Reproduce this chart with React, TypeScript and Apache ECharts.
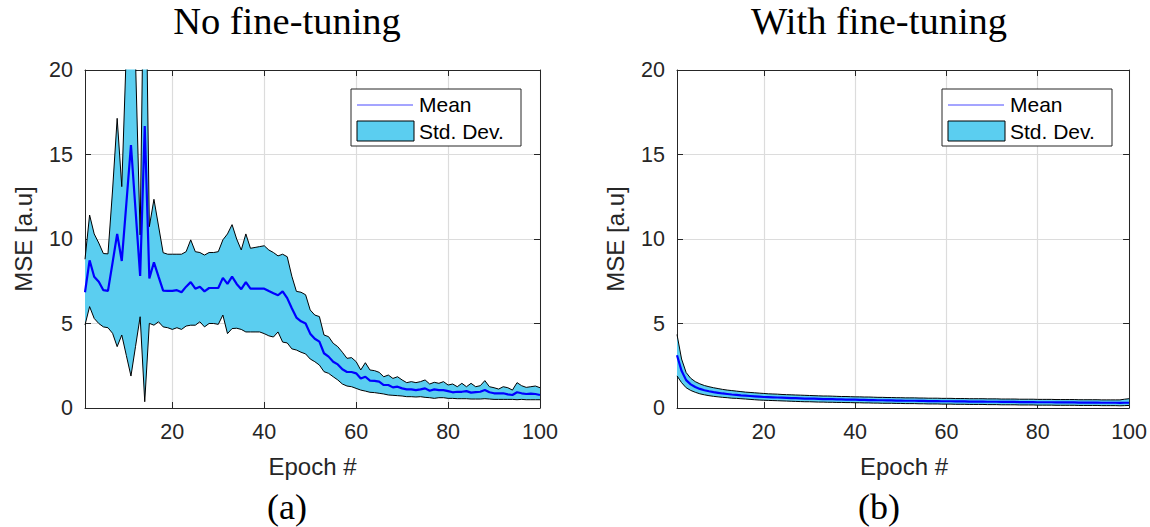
import React, { useEffect, useRef } from "react";
import * as echarts from "echarts";

// ---------- data ----------
const epochs = Array.from({ length: 100 }, (_, i) => String(i + 1));
const xTickValues = ["20", "40", "60", "80", "100"];

const titles = ["No fine-tuning", "With fine-tuning"];
const subLabels = ["(a)", "(b)"];
const xAxisName = "Epoch #";
const yAxisName = "MSE [a.u]";
const legendNames = ["Mean", "Std. Dev."];

const leftMean = [
  6.85, 8.74, 7.77, 7.47, 6.97, 6.93, 8.6, 10.3, 8.7, 12.1,
  15.56, 11.7, 7.81, 16.69, 7.67, 8.62, 7.77, 6.94, 6.93, 6.93,
  6.97, 6.85, 7.18, 7.45, 7.06, 7.18, 6.9, 7.1, 7.1, 7.1,
  7.7, 7.34, 7.77, 7.34, 7.03, 7.45, 7.06, 7.06, 7.06, 7.06,
  6.92, 6.79, 6.67, 6.9, 6.5, 5.9, 5.35, 5.13, 5.0, 4.4,
  4.1, 3.93, 3.24, 3.04, 2.74, 2.58, 2.29, 2.13, 2.13, 2.05,
  1.75, 1.85, 1.62, 1.6, 1.56, 1.36, 1.36, 1.22, 1.26, 1.16,
  1.1, 1.1, 1.06, 1.1, 1.16, 1.02, 1.1, 1.06, 1.06, 1.0,
  0.93, 0.96, 0.96, 1.0, 0.91, 0.94, 0.96, 1.06, 0.93, 0.87,
  0.87, 0.87, 0.81, 0.77, 0.93, 0.87, 0.83, 0.85, 0.83, 0.77,
];
const leftUpper = [
  8.8, 11.42, 10.3, 9.76, 9.14, 9.12, 12.9, 17.14, 13.1, 21.2,
  29.2, 20.5, 10.24, 31.0, 10.73, 12.35, 10.77, 9.19, 9.1, 9.1,
  9.1, 9.1, 9.25, 9.95, 9.25, 9.2, 9.05, 9.2, 9.2, 9.25,
  9.95, 10.3, 10.85, 10.0, 9.35, 10.3, 9.45, 9.5, 9.55, 9.6,
  9.35, 9.2, 9.0, 9.1, 8.95, 7.8, 6.9, 6.85, 6.7, 5.8,
  5.5, 5.41, 4.32, 4.22, 3.83, 3.63, 3.3, 2.94, 2.98, 2.74,
  2.25, 2.68, 2.25, 2.21, 2.11, 1.85, 1.95, 1.75, 1.85, 1.66,
  1.5, 1.56, 1.5, 1.56, 1.66, 1.42, 1.52, 1.46, 1.56, 1.36,
  1.42, 1.26, 1.46, 1.26, 1.46, 1.26, 1.32, 1.62, 1.26, 1.2,
  1.12, 1.26, 1.2, 1.06, 1.5, 1.32, 1.22, 1.26, 1.3, 1.2,
];
const leftLower = [
  4.91, 6.0, 5.3, 5.0, 4.8, 4.75, 4.42, 3.63, 4.32, 3.1,
  1.89, 3.65, 5.4, 0.37, 5.01, 4.9, 5.1, 4.8, 4.75, 4.65,
  4.75, 4.65, 4.85, 4.9, 4.9, 5.1, 4.8, 5.0, 5.0, 4.95,
  5.5, 4.4, 4.7, 4.72, 4.65, 4.5, 4.5, 4.5, 4.5, 4.4,
  4.27, 4.2, 4.5, 3.9, 3.85, 3.5, 3.43, 3.3, 3.2, 2.9,
  2.74, 2.54, 2.15, 2.05, 1.85, 1.66, 1.42, 1.3, 1.26, 1.16,
  1.06, 1.0, 0.93, 0.91, 0.87, 0.83, 0.77, 0.75, 0.73, 0.71,
  0.67, 0.67, 0.65, 0.67, 0.63, 0.61, 0.57, 0.61, 0.61, 0.57,
  0.57, 0.55, 0.55, 0.55, 0.53, 0.53, 0.53, 0.55, 0.53, 0.51,
  0.51, 0.51, 0.51, 0.51, 0.49, 0.51, 0.49, 0.49, 0.49, 0.49,
];

const rightMean = [
  3.12, 2.2, 1.65, 1.4, 1.24, 1.13, 1.05, 0.99, 0.94, 0.9,
  0.86, 0.83, 0.8, 0.78, 0.75, 0.73, 0.71, 0.69, 0.67, 0.65,
  0.64, 0.63, 0.62, 0.61, 0.6, 0.59, 0.58, 0.57, 0.56, 0.55,
  0.55, 0.54, 0.53, 0.53, 0.52, 0.51, 0.51, 0.5, 0.49, 0.49,
  0.48, 0.48, 0.47, 0.47, 0.46, 0.46, 0.45, 0.45, 0.44, 0.44,
  0.43, 0.43, 0.43, 0.42, 0.42, 0.41, 0.41, 0.41, 0.4, 0.4,
  0.4, 0.39, 0.39, 0.39, 0.38, 0.38, 0.38, 0.38, 0.37, 0.37,
  0.37, 0.36, 0.36, 0.36, 0.36, 0.35, 0.35, 0.35, 0.35, 0.34,
  0.34, 0.34, 0.34, 0.33, 0.33, 0.33, 0.33, 0.33, 0.32, 0.32,
  0.32, 0.32, 0.32, 0.31, 0.31, 0.31, 0.31, 0.3, 0.31, 0.31,
];
const rightUpper = [
  4.35, 2.9, 2.1, 1.76, 1.56, 1.43, 1.33, 1.26, 1.2, 1.15,
  1.1, 1.06, 1.03, 1.0, 0.97, 0.94, 0.92, 0.9, 0.88, 0.86,
  0.84, 0.83, 0.82, 0.8, 0.79, 0.78, 0.77, 0.76, 0.75, 0.74,
  0.73, 0.72, 0.71, 0.71, 0.7, 0.69, 0.68, 0.68, 0.67, 0.66,
  0.66, 0.65, 0.65, 0.64, 0.63, 0.63, 0.62, 0.62, 0.61, 0.61,
  0.6, 0.6, 0.6, 0.59, 0.59, 0.58, 0.58, 0.58, 0.57, 0.57,
  0.57, 0.56, 0.56, 0.56, 0.55, 0.55, 0.55, 0.55, 0.54, 0.54,
  0.54, 0.53, 0.53, 0.53, 0.53, 0.52, 0.52, 0.52, 0.52, 0.51,
  0.51, 0.51, 0.51, 0.5, 0.5, 0.5, 0.5, 0.5, 0.49, 0.49,
  0.49, 0.49, 0.49, 0.48, 0.48, 0.48, 0.48, 0.48, 0.52, 0.55,
];
const rightLower = [
  1.9, 1.5, 1.2, 1.04, 0.93, 0.84, 0.78, 0.73, 0.69, 0.66,
  0.63, 0.61, 0.58, 0.57, 0.55, 0.53, 0.51, 0.49, 0.47, 0.46,
  0.45, 0.44, 0.43, 0.42, 0.41, 0.4, 0.39, 0.38, 0.37, 0.37,
  0.36, 0.35, 0.35, 0.34, 0.34, 0.33, 0.33, 0.32, 0.32, 0.31,
  0.31, 0.3, 0.3, 0.29, 0.29, 0.28, 0.28, 0.28, 0.27, 0.27,
  0.26, 0.26, 0.26, 0.25, 0.25, 0.24, 0.24, 0.24, 0.23, 0.23,
  0.23, 0.22, 0.22, 0.22, 0.21, 0.21, 0.21, 0.21, 0.2, 0.2,
  0.2, 0.19, 0.19, 0.19, 0.19, 0.18, 0.18, 0.18, 0.18, 0.17,
  0.17, 0.17, 0.17, 0.16, 0.16, 0.16, 0.16, 0.16, 0.15, 0.15,
  0.15, 0.15, 0.15, 0.14, 0.14, 0.14, 0.14, 0.13, 0.14, 0.15,
];

// ---------- styling ----------
const FILL = "#5BCEF0";
const MEAN_COLOR = "#0000FF";
const AXIS_COLOR = "#262626";
const GRID_COLOR = "#DCDCDC";
const SANS = "'Liberation Sans', Arial, Helvetica, sans-serif";
const SERIF = "'Liberation Serif', 'Times New Roman', serif";

const GRIDS = [
  { left: 85, top: 70, width: 455, height: 338 },
  { left: 677, top: 70, width: 454, height: 338 },
];

const isTick = (_i: number, v: string) => xTickValues.indexOf(v) >= 0;
const isTickIdx = (i: number) => xTickValues.indexOf(epochs[i]) >= 0;

function buildOption() {
  const xAxis: any[] = [];
  const yAxis: any[] = [];
  const series: any[] = [];
  const graphic: any[] = [];

  const panels = [
    { mean: leftMean, upper: leftUpper, lower: leftLower },
    { mean: rightMean, upper: rightUpper, lower: rightLower },
  ];

  panels.forEach((p, gi) => {
    const tick = { show: true, inside: true, length: 6, lineStyle: { color: AXIS_COLOR, width: 1 } };
    const xtick = { ...tick, alignWithLabel: true, interval: (i: number) => isTickIdx(i) };
    xAxis.push({
      type: "category", gridIndex: gi, position: "bottom", data: epochs, boundaryGap: false,
      axisLine: { show: true, onZero: false, lineStyle: { color: AXIS_COLOR, width: 1 } },
      axisTick: xtick,
      axisLabel: { show: true, interval: isTick, margin: 13, color: AXIS_COLOR, fontSize: 21.5, fontFamily: SANS },
      splitLine: { show: true, interval: (i: number) => isTickIdx(i), lineStyle: { color: GRID_COLOR, width: 1.2 } },
    });
    xAxis.push({
      type: "category", gridIndex: gi, position: "top", data: epochs, boundaryGap: false,
      axisLine: { show: true, onZero: false, lineStyle: { color: AXIS_COLOR, width: 1 } },
      axisTick: xtick,
      axisLabel: { show: false },
      splitLine: { show: false },
    });
    yAxis.push({
      type: "value", gridIndex: gi, position: "left", min: 0, max: 20, interval: 5,
      axisLine: { show: true, onZero: false, lineStyle: { color: AXIS_COLOR, width: 1 } },
      axisTick: { ...tick },
      axisLabel: { show: true, margin: 12, color: AXIS_COLOR, fontSize: 21.5, fontFamily: SANS },
      splitLine: { show: true, lineStyle: { color: GRID_COLOR, width: 1.2 } },
    });
    yAxis.push({
      type: "value", gridIndex: gi, position: "right", min: 0, max: 20, interval: 5,
      axisLine: { show: true, onZero: false, lineStyle: { color: AXIS_COLOR, width: 1 } },
      axisTick: { ...tick },
      axisLabel: { show: false },
      splitLine: { show: false },
    });

    const xi = gi * 2;
    const yi = gi * 2;
    const stackId = "band" + gi;
    const diff = p.upper.map((u, i) => u - p.lower[i]);

    series.push({
      type: "line", xAxisIndex: xi, yAxisIndex: yi, stack: stackId, data: p.lower,
      symbol: "none", silent: true, z: 3,
      lineStyle: { color: "#000000", width: 1 },
    });
    series.push({
      type: "line", xAxisIndex: xi, yAxisIndex: yi, stack: stackId, data: diff,
      symbol: "none", silent: true, z: 2,
      lineStyle: { color: "#000000", width: 1 },
      areaStyle: { color: FILL, opacity: 1 },
    });
    series.push({
      type: "line", xAxisIndex: xi, yAxisIndex: yi, data: p.mean,
      symbol: "none", silent: true, z: 4,
      lineStyle: { color: MEAN_COLOR, width: 2.2 },
    });

    const g = GRIDS[gi];
    const dx = g.left - GRIDS[0].left;
    const cx = g.left + g.width / 2;

    graphic.push({
      type: "text", x: 287 + dx, y: 21,
      style: { text: titles[gi], fill: "#000", fontSize: 38.5, fontFamily: SERIF, align: "center", verticalAlign: "middle" },
    });
    graphic.push({
      type: "text", x: 287 + dx, y: 507,
      style: { text: subLabels[gi], fill: "#000", fontSize: 36, fontFamily: SERIF, align: "center", verticalAlign: "middle" },
    });
    graphic.push({
      type: "text", x: cx, y: 466,
      style: { text: xAxisName, fill: AXIS_COLOR, fontSize: 24, fontFamily: SANS, align: "center", verticalAlign: "middle" },
    });
    graphic.push({
      type: "text", x: 23 + dx, y: g.top + g.height / 2, rotation: Math.PI / 2,
      style: { text: yAxisName, fill: AXIS_COLOR, fontSize: 24, fontFamily: SANS, align: "center", verticalAlign: "middle" },
    });
    const lx = g.left + g.width - 19 - 170;
    graphic.push({
      type: "rect", shape: { x: lx, y: 89, width: 170, height: 57 },
      style: { fill: "#ffffff", stroke: AXIS_COLOR, lineWidth: 1 }, z: 20,
    });
    graphic.push({
      type: "line", shape: { x1: lx + 6, y1: 105, x2: lx + 62, y2: 105 },
      style: { stroke: "#4A4AFF", lineWidth: 1 }, z: 21,
    });
    graphic.push({
      type: "rect", shape: { x: lx + 6, y: 121, width: 57, height: 20 },
      style: { fill: FILL, stroke: "#000", lineWidth: 1 }, z: 21,
    });
    graphic.push({
      type: "text", x: lx + 68, y: 104, z: 21,
      style: { text: legendNames[0], fill: "#000", fontSize: 21, fontFamily: SANS, align: "left", verticalAlign: "middle" },
    });
    graphic.push({
      type: "text", x: lx + 68, y: 131, z: 21,
      style: { text: legendNames[1], fill: "#000", fontSize: 21, fontFamily: SANS, align: "left", verticalAlign: "middle" },
    });
  });

  return {
    animation: false,
    backgroundColor: "#ffffff",
    grid: GRIDS.map((g) => ({ ...g, containLabel: false })),
    xAxis,
    yAxis,
    series,
    graphic,
  };
}

export default function App() {
  const ref = useRef<HTMLDivElement>(null);
  useEffect(() => {
    if (!ref.current) return;
    const chart = echarts.init(ref.current, undefined, { renderer: "svg" });
    chart.setOption(buildOption() as any);
    return () => chart.dispose();
  }, []);
  return (
    <div
      ref={ref}
      style={{ position: "absolute", left: 0, top: 0, width: 1150, height: 527, background: "#fff" }}
    />
  );
}
